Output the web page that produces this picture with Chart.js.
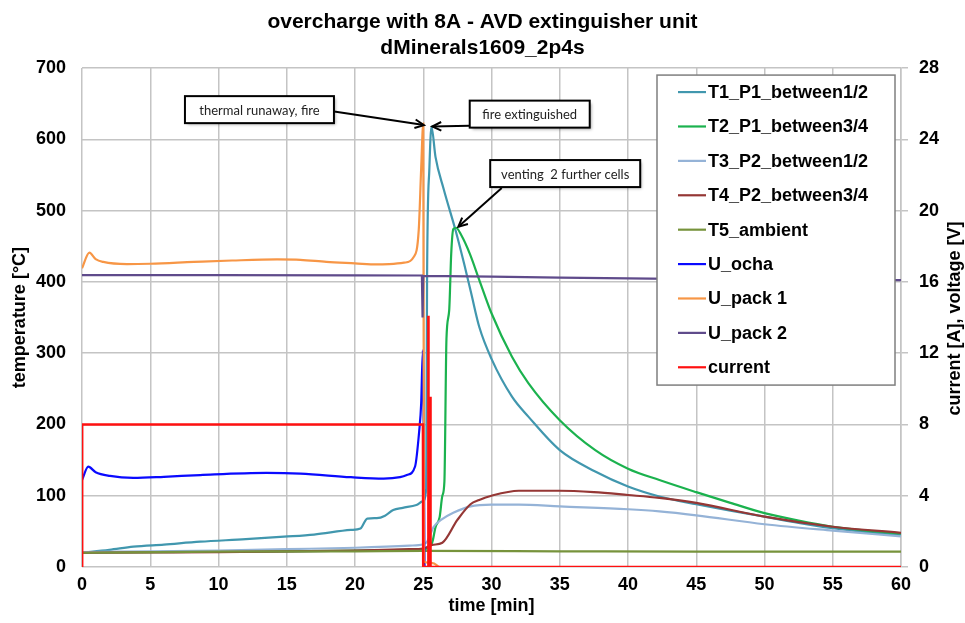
<!DOCTYPE html>
<html>
<head>
<meta charset="utf-8">
<script src="https://cdn.jsdelivr.net/npm/chart.js@4.4.0/dist/chart.umd.min.js"></script>
<style>
  html, body { margin: 0; padding: 0; background: #fff; }
  #wrap { width: 965px; height: 623px; }
</style>
</head>
<body>
<div id="wrap"><canvas id="chart" width="965" height="623"></canvas></div>
<script>
// time in minutes; T* in °C (left axis), U* and current in V / A (right axis)
const t1Time = [0, 2, 3.76, 6, 8.66, 12, 14.8, 17, 19.7, 20.4, 20.9, 21.6, 22.2, 22.8, 23.5, 24.5, 24.95, 25.22, 25.28, 25.45, 25.6, 25.9, 26.5, 27.4, 28.0, 28.5, 29.1, 30, 31.5, 32.7, 35, 37.6, 40, 42.3, 45, 47.5, 50, 52.5, 55, 57.5, 60];
const t1Values = [20, 24, 28.5, 31.5, 35.5, 39, 42.5, 45.5, 52, 54, 68, 68.5, 72, 80, 83, 87, 92, 110, 407, 560, 618, 575, 530, 470, 425, 385, 337, 292, 239, 211, 164, 134, 113, 99, 88, 79, 70.6, 62, 54.5, 49, 45];

const t2Time = [0, 5, 10, 15, 20, 24, 25, 25.65, 25.9, 26.2, 26.4, 26.55, 26.7, 26.9, 27.05, 27.2, 27.4, 27.8, 28.4, 29.1, 30, 31.5, 32.7, 35, 37.6, 40, 42.3, 45, 47.5, 50, 52.5, 55, 57.5, 60];
const t2Values = [20, 21, 21.5, 22, 23, 24, 25, 34, 56, 70, 100, 120, 320, 360, 440, 474, 476, 465, 440, 403, 356, 295, 258, 206, 164, 138, 122, 105, 90, 75.5, 65, 56.5, 51, 47];

const t3Time = [0, 5, 10, 15, 20, 24, 25, 25.3, 25.5, 25.75, 26.3, 27.2, 28.46, 30, 32, 35, 40, 42.3, 45, 50, 55, 60];
const t3Values = [21, 22, 23, 25, 27, 30, 32, 36, 45, 56, 66, 76, 85, 87.5, 87.5, 85, 81, 78, 72.5, 60, 51, 43];

const t4Time = [0, 5, 10, 15, 20, 24, 25, 25.65, 26.4, 27.5, 28.46, 29.1, 30, 32, 35, 37.5, 40, 42.3, 45, 50, 55, 60];
const t4Values = [20, 20.5, 21, 22, 23, 25, 26, 31, 34, 66, 88, 94, 100, 107, 107, 105, 101, 97, 90, 70.6, 56.5, 48];

const t5Time = [0, 10, 20, 25, 35, 45, 60];
const t5Values = [20, 21.5, 22, 22.5, 22, 21.5, 21.5];

const uOchaTime = [0, 0.46, 1.0, 2.05, 3.76, 6, 8.66, 13.5, 16, 19.7, 22.1, 23.3, 23.8, 24.4, 24.7, 24.85, 24.97, 25.05, 25.1, 60];
const uOchaValues = [4.88, 5.63, 5.32, 5.11, 5.0, 5.06, 5.16, 5.28, 5.24, 5.04, 4.96, 5.04, 5.16, 5.64, 7.6, 9.2, 12.16, 6.0, 0, 0];

const uPack1Time = [0, 0.54, 1.0, 1.56, 3.3, 5, 8.2, 11, 14.3, 16, 17.9, 20, 21.6, 22.5, 23.6, 24.3, 24.67, 24.85, 25.0, 25.06, 25.3, 25.8, 26.2, 60];
const uPack1Values = [16.76, 17.64, 17.28, 17.12, 17.0, 17.02, 17.12, 17.2, 17.26, 17.24, 17.12, 17.04, 16.98, 17.0, 17.08, 17.4, 18.92, 22.4, 24.88, 0.3, 0.25, 0.2, 0, 0];

const uPack2Time = [0, 10, 20, 24.9, 24.95, 25.0, 30, 35, 40, 45, 50, 60];
const uPack2Values = [16.38, 16.38, 16.37, 16.36, 14.0, 16.34, 16.3, 16.24, 16.2, 16.16, 16.13, 16.1];

const currentTime = [0, 0.01, 24.98, 25.0, 25.35, 25.37, 25.39, 25.5, 25.52, 25.54, 60];
const currentValues = [0, 8, 8, 0, 0, 14.1, 0, 0, 9.55, 0, 0];

const xTicks = [0, 60, 5];
const tempTicks = [0, 700, 100];
const rightTicks = [0, 28, 4];

const series = [
  { label: 'T1_P1_between1/2', time: t1Time, values: t1Values, color: '#4197AE', axis: 'y', smooth: true },
  { label: 'T2_P1_between3/4', time: t2Time, values: t2Values, color: '#1BB24E', axis: 'y', smooth: true },
  { label: 'T3_P2_between1/2', time: t3Time, values: t3Values, color: '#95B3D7', axis: 'y', smooth: true },
  { label: 'T4_P2_between3/4', time: t4Time, values: t4Values, color: '#953735', axis: 'y', smooth: true },
  { label: 'T5_ambient', time: t5Time, values: t5Values, color: '#77933C', axis: 'y', smooth: true },
  { label: 'U_ocha', time: uOchaTime, values: uOchaValues, color: '#0A0AFF', axis: 'y1', smooth: true },
  { label: 'U_pack 1', time: uPack1Time, values: uPack1Values, color: '#F79646', axis: 'y1', smooth: true },
  { label: 'U_pack 2', time: uPack2Time, values: uPack2Values, color: '#5F4B8B', axis: 'y1', smooth: false },
  { label: 'current', time: currentTime, values: currentValues, color: '#FF1010', axis: 'y1', smooth: false }
];

// callouts, positions in data units of x / left axis
const callouts = [
  { text: 'thermal runaway, fire', x: 13.0, y: 641.7, w: 149, from: [18.47, 639], to: [25.05, 620] },
  { text: 'fire extinguished', x: 32.8, y: 635.4, w: 120, from: [28.4, 619], to: [25.66, 618] },
  { text: 'venting  2 further cells', x: 35.4, y: 552, w: 150, from: [30.75, 531.6], to: [27.57, 477.3] }
];

const FONT = 'Liberation Sans, Arial, sans-serif';
const GRID = '#c4c4c4';

const datasets = series.map((s, i) => ({
  label: s.label,
  data: s.time.map((t, k) => ({ x: t, y: s.values[k] })),
  borderColor: s.color,
  backgroundColor: s.color,
  borderWidth: s.label === 'current' ? 2.6 : 2.2,
  pointRadius: 0,
  cubicInterpolationMode: s.smooth ? 'monotone' : 'default',
  tension: 0,
  yAxisID: s.axis,
  order: series.length - 1 - i
}));

function arrow(ctx, x1, y1, x2, y2) {
  const a = Math.atan2(y2 - y1, x2 - x1);
  ctx.beginPath();
  ctx.moveTo(x1, y1);
  ctx.lineTo(x2, y2);
  ctx.stroke();
  ctx.beginPath();
  ctx.moveTo(x2 - 10 * Math.cos(a - 0.45), y2 - 10 * Math.sin(a - 0.45));
  ctx.lineTo(x2, y2);
  ctx.lineTo(x2 - 10 * Math.cos(a + 0.45), y2 - 10 * Math.sin(a + 0.45));
  ctx.stroke();
}

const extras = {
  id: 'extras',
  afterDatasetsDraw(chart) {
    const ctx = chart.ctx;
    const xs = chart.scales.x, ys = chart.scales.y;
    const area = chart.chartArea;

    // callout boxes + arrows
    ctx.save();
    ctx.font = '13px Lato, sans-serif';
    ctx.textAlign = 'center';
    ctx.textBaseline = 'middle';
    callouts.forEach(c => {
      const cx = xs.getPixelForValue(c.x), cy = ys.getPixelForValue(c.y);
      const h = 27;
      ctx.save();
      ctx.shadowColor = 'rgba(0,0,0,0.35)';
      ctx.shadowOffsetX = 2; ctx.shadowOffsetY = 2; ctx.shadowBlur = 3;
      ctx.fillStyle = '#fff';
      ctx.fillRect(cx - c.w / 2, cy - h / 2, c.w, h);
      ctx.restore();
      ctx.strokeStyle = '#000';
      ctx.lineWidth = 2;
      ctx.strokeRect(cx - c.w / 2, cy - h / 2, c.w, h);
      ctx.fillStyle = '#222';
      ctx.fillText(c.text, cx, cy + 1);
      arrow(ctx, xs.getPixelForValue(c.from[0]), ys.getPixelForValue(c.from[1]),
        xs.getPixelForValue(c.to[0]), ys.getPixelForValue(c.to[1]));
    });
    ctx.restore();

    // legend box inside plot
    const lx = area.right - 244, ly = area.top + 7, lw = 238, lh = 310;
    ctx.save();
    ctx.fillStyle = '#fff';
    ctx.fillRect(lx, ly, lw, lh);
    ctx.strokeStyle = '#7f7f7f';
    ctx.lineWidth = 1.5;
    ctx.strokeRect(lx, ly, lw, lh);
    ctx.font = 'bold 18px ' + FONT;
    ctx.textBaseline = 'middle';
    ctx.textAlign = 'left';
    chart.data.datasets.forEach((d, i) => {
      const y = ly + 17 + i * 34.4;
      ctx.strokeStyle = d.borderColor;
      ctx.lineWidth = 2.2;
      ctx.beginPath();
      ctx.moveTo(lx + 21, y);
      ctx.lineTo(lx + 49, y);
      ctx.stroke();
      ctx.fillStyle = '#000';
      ctx.fillText(d.label, lx + 51, y + 1);
    });
    ctx.restore();

    // right axis title, reading bottom to top
    ctx.save();
    ctx.translate(955, (area.top + area.bottom) / 2 + 1);
    ctx.rotate(-Math.PI / 2);
    ctx.font = 'bold 18px ' + FONT;
    ctx.fillStyle = '#000';
    ctx.textAlign = 'center';
    ctx.textBaseline = 'middle';
    ctx.fillText('current [A], voltage [V]', 0, 0);
    ctx.restore();
  }
};

const tickFont = { family: FONT, size: 18, weight: 'bold' };

new Chart(document.getElementById('chart'), {
  type: 'line',
  data: { datasets },
  plugins: [extras],
  options: {
    responsive: false,
    animation: false,
    devicePixelRatio: 1,
    layout: { padding: 0 },
    plugins: {
      legend: { display: false },
      tooltip: { enabled: false },
      title: {
        display: true,
        text: ['overcharge with 8A - AVD extinguisher unit', 'dMinerals1609_2p4s'],
        color: '#000',
        font: { family: FONT, size: 21, weight: 'bold', lineHeight: 1.24 },
        padding: { top: 9, bottom: 7 }
      }
    },
    scales: {
      x: {
        type: 'linear',
        min: xTicks[0], max: xTicks[1],
        ticks: { stepSize: xTicks[2], color: '#000', font: tickFont, padding: 7, maxRotation: 0 },
        grid: { color: GRID, lineWidth: 1.5, drawTicks: false },
        border: { display: false },
        title: { display: true, text: 'time [min]', color: '#000', font: tickFont, padding: { top: 0, bottom: 6 } },
        afterFit(scale) { scale.height = 56; }
      },
      y: {
        position: 'left',
        min: tempTicks[0], max: tempTicks[1],
        ticks: { stepSize: tempTicks[2], color: '#000', font: tickFont, padding: 16 },
        grid: { color: GRID, lineWidth: 1.5, drawTicks: false },
        border: { display: false },
        title: { display: true, text: 'temperature [°C]', color: '#000', font: tickFont, padding: { top: 9, bottom: 0 } },
        afterFit(scale) { scale.width = 82; }
      },
      y1: {
        position: 'right',
        min: rightTicks[0], max: rightTicks[1],
        ticks: { stepSize: rightTicks[2], color: '#000', font: tickFont, padding: 11 },
        grid: { drawOnChartArea: false, color: GRID, lineWidth: 1.5, tickLength: 7 },
        border: { color: GRID, width: 1.5 },
        afterFit(scale) { scale.width = 64; }
      }
    }
  }
});
</script>
</body>
</html>
